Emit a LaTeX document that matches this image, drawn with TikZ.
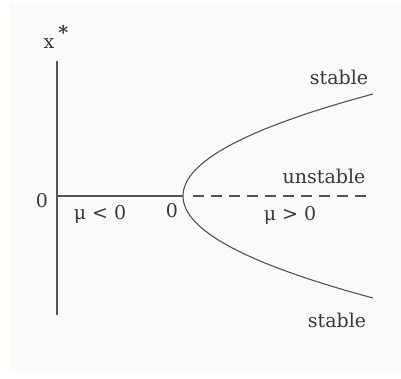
\documentclass[tikz,border=0pt]{standalone}
\usepackage{fontspec}
\setmainfont{DejaVu Serif}
\usepackage{xcolor}
\usepackage{tikz}
\definecolor{paper}{rgb}{0.98,0.98,0.975}
\definecolor{ink}{rgb}{0.32,0.32,0.32}
\definecolor{type}{rgb}{0.22,0.22,0.22}

\begin{document}
\begin{tikzpicture}[x=1pt,y=-1pt,
    lbl/.style={font=\fontsize{19}{21}\selectfont,text=type,inner sep=0pt},
    ax/.style={draw=ink,line width=1.6pt},
    branch/.style={draw=ink,line width=1.1pt}
  ]
    \useasboundingbox (0,0) rectangle (401,378);
    \fill[paper] (9,2) rectangle (401,372);
    % axes
    \coordinate (top) at (57,61);
    \coordinate (bot) at (57,315);
    \coordinate (org) at (57,196);
    \coordinate (vtx) at (183,196);
    \coordinate (far) at (372,196);
    \draw[ax] (top) -- (bot);
    \draw[ax] (org) -- (vtx);
    \draw[branch,dash pattern=on 11pt off 7pt] (vtx) ++(10,0) -- (far);
    % parabola of equilibria
    \draw[branch] plot[domain=-102:102,samples=80,smooth] ({183+0.01826*\x*\x},{196-\x});
    % labels
    \node[lbl] (xs)  at (56,37)   {x\kern4pt\raisebox{9pt}{\bfseries *}};
    \node[lbl] (s1)  at (339,77)  {stable};
    \node[lbl] (un)  at (324,176) {unstable};
    \node[lbl] (z1)  at (42,201)  {0};
    \node[lbl] (mn)  at (100,214) {μ < 0};
    \node[lbl] (z2)  at (172,211) {0};
    \node[lbl] (mp)  at (290,215) {μ > 0};
    \node[lbl] (s2)  at (337,320) {stable};
  \end{tikzpicture}
\end{document}
